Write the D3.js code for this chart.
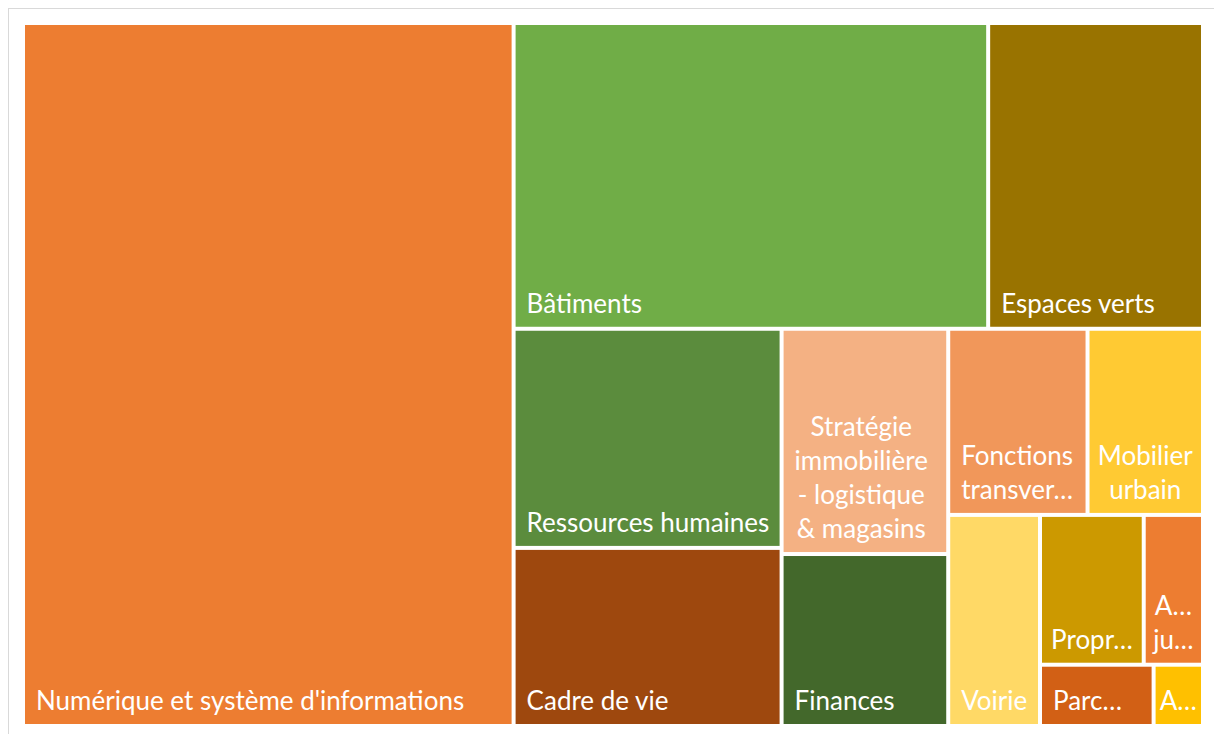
<!DOCTYPE html>
<html>
<head>
<meta charset="utf-8">
<script src="https://cdn.jsdelivr.net/npm/d3@7"></script>
<style>
  body { margin: 0; background: #fff; }
  text { font-family: Lato, 'Open Sans', sans-serif; }
</style>
</head>
<body>
<script>
const services = [
  'Numérique et système d\'informations', 'Bâtiments', 'Espaces verts',
  'Ressources humaines', 'Cadre de vie', 'Stratégie immobilière - logistique & magasins',
  'Finances', 'Fonctions transversales', 'Mobilier urbain', 'Voirie',
  'Propreté', 'Affaires juridiques', 'Parc automobile', 'Archives'
]
const amounts = [3418, 1438, 651, 582, 473, 372, 284, 257, 213, 192, 154, 88, 69, 30]
const colors = [
  '#ED7D31', '#70AD47', '#997300', '#5B8C3D', '#9E480E', '#F4B183', '#43682B',
  '#F1975A', '#FFCA33', '#FFD966', '#CC9900', '#ED7D31', '#D26015', '#FFC000'
]
// how many tiles go in each strip of the layout (Excel's grouping)
const stripSizes = [1, 2, 2, 2, 2, 1, 2, 1, 1]

const width = 1214
const height = 734
const fontSize = 26
const lineH = 34

const svg = d3.select('body').append('svg')
  .attr('width', width)
  .attr('height', height)

// chart frame
svg.append('rect')
  .attr('x', 8.5).attr('y', 8.5)
  .attr('width', 1220).attr('height', 740)
  .attr('fill', '#fff')
  .attr('stroke', '#D9D9D9')

const stripTile = (parent, x0, y0, x1, y1) => {
  let rest = parent.value
  let i = 0
  stripSizes.forEach(k => {
    const row = { children: parent.children.slice(i, i + k) }
    i += k
    row.value = d3.sum(row.children, d => d.value)
    if (x1 - x0 < y1 - y0) {
      const yy = y0 + (y1 - y0) * row.value / rest
      d3.treemapDice(row, x0, y0, x1, yy)
      y0 = yy
    } else {
      const xx = x0 + (x1 - x0) * row.value / rest
      d3.treemapSlice(row, x0, y0, xx, y1)
      x0 = xx
    }
    rest -= row.value
  })
}

const data = services.map((name, i) => ({ name, value: amounts[i], color: colors[i] }))
const root = d3.hierarchy({ children: data })
  .sum(d => d.value || 0)
  .sort((a, b) => b.value - a.value)

d3.treemap()
  .size([1176, 699])
  .paddingInner(4)
  .tile(stripTile)(root)

const g = svg.append('g').attr('transform', 'translate(25,25)')

const measure = svg.append('text')
  .attr('font-size', fontSize)
  .attr('visibility', 'hidden')
const textWidth = s => measure.text(s).node().getComputedTextLength()

const fitWord = (word, maxW) => {
  if (textWidth(word) <= maxW) return word
  let n = word.length - 1
  while (n > 1 && textWidth(word.slice(0, n) + '…') > maxW) n--
  return word.slice(0, n) + '…'
}

const wrapLabel = (label, maxW, maxLines) => {
  let lines = []
  let cur = null
  for (const w of label.split(' ')) {
    if (cur !== null && !cur.endsWith('…') && textWidth(cur + ' ' + w) <= maxW) cur += ' ' + w
    else {
      if (cur !== null) lines.push(cur)
      cur = fitWord(w, maxW)
    }
  }
  lines.push(cur)
  if (lines.length > maxLines) {
    lines = lines.slice(0, maxLines)
    let last = lines[maxLines - 1]
    if (!last.endsWith('…')) {
      let n = last.length
      while (n > 1 && textWidth(last.slice(0, n) + '…') > maxW) n--
      last = last.slice(0, n) + '…'
    }
    lines[maxLines - 1] = last
  }
  return lines
}

const cell = g.selectAll('g.cell')
  .data(root.leaves())
  .enter().append('g')
  .attr('class', 'cell')

cell.append('rect')
  .attr('x', d => d.x0)
  .attr('y', d => d.y0)
  .attr('width', d => d.x1 - d.x0)
  .attr('height', d => d.y1 - d.y0)
  .attr('fill', d => d.data.color)

cell.each(function (d) {
  const w = d.x1 - d.x0
  const h = d.y1 - d.y0
  const maxW = w - 14
  const maxLines = Math.max(1, Math.floor((h - 8) / lineH))
  const lines = wrapLabel(d.data.name, maxW, maxLines)
  const bw = d3.max(lines, textWidth)
  const left = bw <= w - 20 ? d.x0 + 11 : d.x0 + (w - bw) / 2
  const n = lines.length
  d3.select(this).selectAll('text')
    .data(lines)
    .enter().append('text')
    .attr('x', left + bw / 2)
    .attr('y', (s, i) => d.y1 - 14 - (n - 1 - i) * lineH)
    .attr('text-anchor', 'middle')
    .attr('font-size', fontSize)
    .attr('fill', '#fff')
    .text(s => s)
})
</script>
</body>
</html>
